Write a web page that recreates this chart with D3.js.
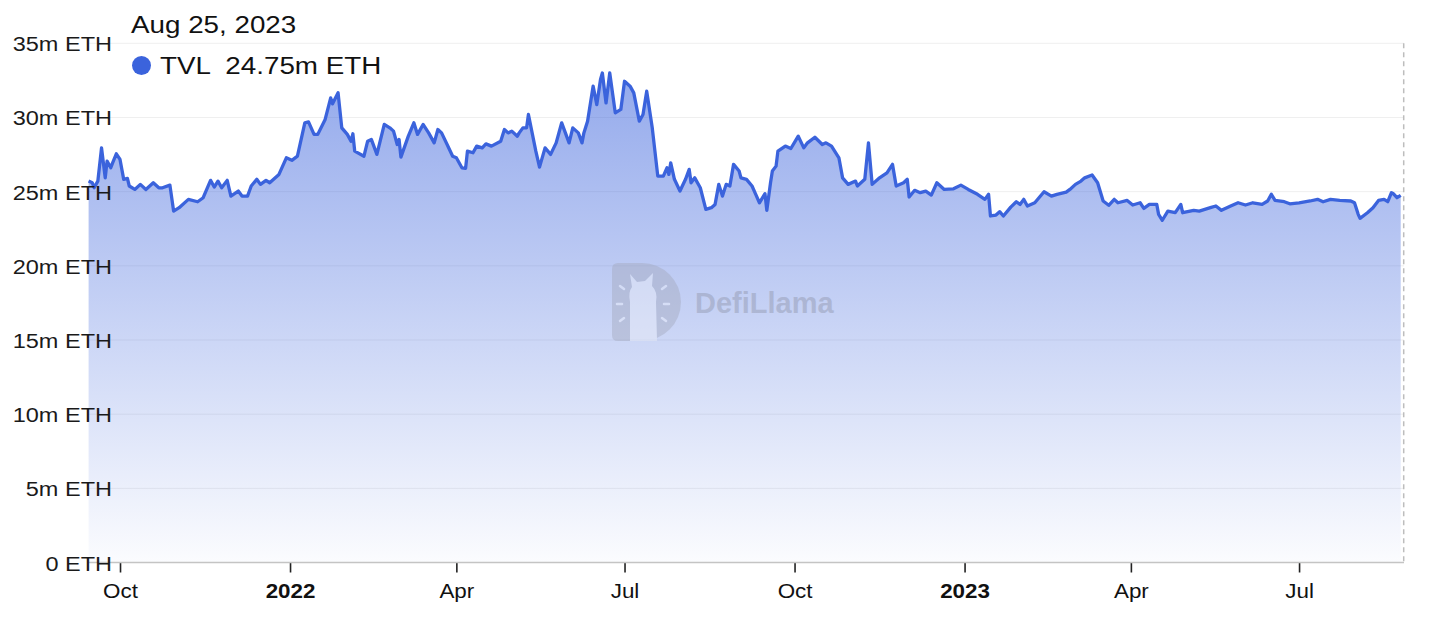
<!DOCTYPE html>
<html>
<head>
<meta charset="utf-8">
<script src="https://cdn.jsdelivr.net/npm/d3@7"></script>
<style>
  html, body { margin: 0; padding: 0; background: #fff; }
  svg { display: block; }
  text { font-family: "Liberation Sans", Arial, Helvetica, sans-serif; }
</style>
</head>
<body>
<svg id="chart" width="1430" height="622"></svg>
<script>
// ---------- DATA ----------
const dates = [
"2021-09-14","2021-09-16","2021-09-17","2021-09-19","2021-09-21","2021-09-23","2021-09-24","2021-09-26","2021-09-27","2021-09-29",
"2021-10-01","2021-10-03","2021-10-05","2021-10-06","2021-10-09","2021-10-12","2021-10-15","2021-10-19","2021-10-22","2021-10-24","2021-10-28","2021-10-30",
"2021-11-02","2021-11-07","2021-11-12","2021-11-15","2021-11-19","2021-11-21","2021-11-23","2021-11-25","2021-11-28","2021-11-30",
"2021-12-04","2021-12-06","2021-12-09","2021-12-11","2021-12-14","2021-12-16","2021-12-19","2021-12-21","2021-12-26","2021-12-30",
"2022-01-02","2022-01-05","2022-01-09","2022-01-11","2022-01-14","2022-01-16","2022-01-20","2022-01-23","2022-01-24","2022-01-27","2022-01-29",
"2022-02-01","2022-02-03","2022-02-04","2022-02-05","2022-02-10","2022-02-12","2022-02-14","2022-02-17","2022-02-21","2022-02-24","2022-02-26","2022-02-28",
"2022-03-01","2022-03-02","2022-03-06","2022-03-09","2022-03-11","2022-03-14","2022-03-17","2022-03-20","2022-03-22","2022-03-24","2022-03-27","2022-03-30",
"2022-04-01","2022-04-04","2022-04-06","2022-04-07","2022-04-10","2022-04-12","2022-04-15","2022-04-17","2022-04-20","2022-04-25","2022-04-27","2022-04-29",
"2022-05-01","2022-05-04","2022-05-05","2022-05-07","2022-05-09","2022-05-10","2022-05-14","2022-05-16","2022-05-19","2022-05-22","2022-05-25","2022-05-28",
"2022-06-01","2022-06-03","2022-06-06","2022-06-08","2022-06-09","2022-06-11","2022-06-14","2022-06-16","2022-06-18","2022-06-19","2022-06-21","2022-06-23","2022-06-26","2022-06-29",
"2022-07-01","2022-07-04","2022-07-06","2022-07-09","2022-07-11","2022-07-13","2022-07-16","2022-07-19","2022-07-22","2022-07-24","2022-07-25","2022-07-26","2022-07-28","2022-07-31",
"2022-08-03","2022-08-05","2022-08-06","2022-08-08","2022-08-11","2022-08-14","2022-08-17","2022-08-19","2022-08-21","2022-08-23","2022-08-25","2022-08-27","2022-08-29",
"2022-09-01","2022-09-02","2022-09-05","2022-09-08","2022-09-10","2022-09-12","2022-09-15","2022-09-16","2022-09-18","2022-09-19","2022-09-21","2022-09-22","2022-09-26","2022-09-29",
"2022-10-03","2022-10-06","2022-10-08","2022-10-12","2022-10-16","2022-10-18","2022-10-21","2022-10-25","2022-10-27","2022-10-30",
"2022-11-03","2022-11-04","2022-11-08","2022-11-10","2022-11-12","2022-11-16","2022-11-20","2022-11-23","2022-11-25","2022-11-29",
"2022-12-01","2022-12-02","2022-12-05","2022-12-08","2022-12-11","2022-12-14","2022-12-17","2022-12-21","2022-12-26","2022-12-30",
"2023-01-03","2023-01-08","2023-01-12","2023-01-14","2023-01-15","2023-01-18","2023-01-20","2023-01-22","2023-01-26","2023-01-29","2023-01-31",
"2023-02-02","2023-02-04","2023-02-08","2023-02-13","2023-02-17","2023-02-20","2023-02-25","2023-02-27",
"2023-03-02","2023-03-05","2023-03-07","2023-03-11","2023-03-14","2023-03-17","2023-03-20","2023-03-23","2023-03-25","2023-03-30",
"2023-04-02","2023-04-06","2023-04-08","2023-04-11","2023-04-15","2023-04-16","2023-04-18","2023-04-21","2023-04-25","2023-04-28","2023-04-29",
"2023-05-05","2023-05-08","2023-05-14","2023-05-17","2023-05-20","2023-05-25","2023-05-29",
"2023-06-02","2023-06-06","2023-06-11","2023-06-14","2023-06-16","2023-06-18","2023-06-23","2023-06-26",
"2023-07-01","2023-07-07","2023-07-11","2023-07-14","2023-07-18","2023-07-23","2023-07-29","2023-07-31",
"2023-08-02","2023-08-03","2023-08-07","2023-08-10","2023-08-13","2023-08-16","2023-08-18","2023-08-20","2023-08-21","2023-08-23","2023-08-25"
];

// TVL in millions of ETH
const tvl = [
25.71,25.60,25.26,25.71,27.95,25.93,27.06,26.61,26.94,27.55,
27.17,25.83,25.89,25.38,25.15,25.49,25.15,25.60,25.26,25.26,25.44,23.69,
23.92,24.48,24.32,24.59,25.76,25.31,25.71,25.26,25.76,24.70,
25.04,24.70,24.70,25.38,25.83,25.49,25.76,25.60,26.16,27.28,
27.11,27.39,29.64,29.70,28.86,28.86,29.87,31.32,30.92,31.66,29.30,
28.86,28.40,28.90,27.73,27.39,28.40,28.52,27.51,29.53,29.30,29.08,28.18,
28.52,27.33,28.74,29.64,28.86,29.53,28.96,28.29,29.19,28.96,28.18,27.39,
27.28,26.61,26.57,27.73,27.62,28.07,27.95,28.22,28.07,28.40,29.19,28.96,
29.08,28.74,28.96,29.30,29.30,30.20,27.73,26.65,27.95,27.51,28.29,29.64,
28.29,29.30,28.96,28.29,28.96,29.75,32.11,30.87,32.56,33.00,30.98,33.00,30.31,30.54,
32.44,32.11,31.66,29.75,30.20,31.77,29.30,26.05,26.05,26.61,26.16,26.94,25.83,25.04,
25.83,26.50,25.60,25.93,25.26,23.81,23.92,24.14,25.49,24.70,25.49,25.38,26.84,
26.39,25.93,25.83,25.38,24.82,24.25,24.86,23.74,25.60,26.39,26.72,27.73,28.07,27.91,
28.74,27.95,28.29,28.67,28.18,28.29,28.07,27.28,25.93,25.49,
25.71,25.38,25.83,28.29,25.49,25.93,26.27,26.84,25.38,25.60,
25.83,24.64,25.09,24.93,25.04,24.77,25.60,25.15,25.19,25.44,
25.15,24.82,24.48,24.82,23.36,23.42,23.65,23.36,23.96,24.32,24.14,
24.48,24.03,24.25,24.99,24.70,24.82,24.97,25.15,
25.49,25.71,25.93,26.12,25.60,24.37,24.08,24.48,24.25,24.41,
24.10,24.25,23.87,24.14,24.14,23.47,23.07,23.69,23.58,24.14,23.58,
23.74,23.69,23.92,24.03,23.74,24.03,24.25,
24.10,24.25,24.14,24.37,24.82,24.41,24.32,24.18,
24.25,24.37,24.48,24.32,24.48,24.41,24.37,24.25,
23.47,23.20,23.58,23.92,24.41,24.48,24.32,24.93,24.86,24.59,24.75
];

const yTicks = [0, 5, 10, 15, 20, 25, 30, 35];
const yTickLabels = ["0 ETH", "5m ETH", "10m ETH", "15m ETH", "20m ETH", "25m ETH", "30m ETH", "35m ETH"];
const xTickDates = ["2021-10-01", "2022-01-01", "2022-04-01", "2022-07-01", "2022-10-01", "2023-01-01", "2023-04-01", "2023-07-01"];
const xTickLabels = ["Oct", "2022", "Apr", "Jul", "Oct", "2023", "Apr", "Jul"];
const xTickBold = [false, true, false, false, false, true, false, false];

const tooltipDate = "Aug 25, 2023";
const tooltipSeries = "TVL";
const tooltipValue = "24.75m ETH";

// ---------- SETUP ----------
const parse = d3.utcParse("%Y-%m-%d");
const data = dates.map((d, i) => ({ date: parse(d), value: tvl[i] }));

const svg = d3.select("#chart");
const plotLeft = 88.6, plotRight = 1400.7, plotTop = 43.3, plotBottom = 562.5;
const SX = 1.12; // horizontal text stretch seen in reference

const x = d3.scaleUtc()
  .domain(d3.extent(data, d => d.date))
  .range([plotLeft, plotRight]);
const y = d3.scaleLinear()
  .domain([0, 35])
  .range([plotBottom, plotTop]);

const lineColor = "#3b63dc";

// gradient
const defs = svg.append("defs");
const grad = defs.append("linearGradient")
  .attr("id", "areaGrad")
  .attr("gradientUnits", "userSpaceOnUse")
  .attr("x1", 0).attr("x2", 0)
  .attr("y1", y(35)).attr("y2", y(0));
grad.append("stop").attr("offset", "0%").attr("stop-color", lineColor).attr("stop-opacity", 0.58);
grad.append("stop").attr("offset", "100%").attr("stop-color", lineColor).attr("stop-opacity", 0.02);

// grid lines
svg.append("g")
  .selectAll("line")
  .data(yTicks.filter(t => t > 0))
  .join("line")
  .attr("x1", plotLeft).attr("x2", 1404)
  .attr("y1", d => y(d)).attr("y2", d => y(d))
  .attr("stroke", "#efefef")
  .attr("stroke-width", 1);

// area
const area = d3.area()
  .x(d => x(d.date))
  .y0(y(0))
  .y1(d => y(d.value));
svg.append("path")
  .datum(data)
  .attr("d", area)
  .attr("fill", "url(#areaGrad)");

// watermark
const wm = svg.append("g").attr("opacity", 0.42);
wm.append("path")
  .attr("d", "M618,263 L642,263 A39,39 0 0 1 642,341 L618,341 Q612,341 612,335 L612,269 Q612,263 618,263 Z")
  .attr("fill", "#a2a7bb");
wm.append("path")
  .attr("d", "M630,341 L630,302 Q628,292 632,287 L630,274 L637,282 L645,281 L653,273 L652,286 Q658,292 656,302 L657,341 Z")
  .attr("fill", "#eef0f8");
[[620,286,624,289],[617,304,622,304],[620,321,624,318],[666,286,662,289],[669,304,664,304],[666,321,662,318]].forEach(s => {
  wm.append("line").attr("x1", s[0]).attr("y1", s[1]).attr("x2", s[2]).attr("y2", s[3])
    .attr("stroke", "#eef0f8").attr("stroke-width", 2.5).attr("stroke-linecap", "round");
});
wm.append("text")
  .attr("x", 695).attr("y", 313)
  .attr("font-family", "Inter, 'Noto Sans', sans-serif")
  .attr("font-weight", 700)
  .attr("font-size", 29)
  .attr("fill", "#8d92a8")
  .text("DefiLlama");

// line
const line = d3.line()
  .x(d => x(d.date))
  .y(d => y(d.value));
svg.append("path")
  .datum(data)
  .attr("d", line)
  .attr("fill", "none")
  .attr("stroke", lineColor)
  .attr("stroke-width", 3.3)
  .attr("stroke-linejoin", "round");

// x axis
const xAxis = d3.axisBottom(x)
  .tickValues(xTickDates.map(parse))
  .tickSize(10)
  .tickFormat((d, i) => xTickLabels[i]);
const gx = svg.append("g")
  .attr("transform", `translate(0,${plotBottom})`)
  .call(xAxis);
gx.select(".domain").remove();
gx.selectAll(".tick line").attr("stroke", "#222").attr("stroke-width", 1.6);
gx.selectAll(".tick text")
  .attr("x", null).attr("y", null).attr("dy", null)
  .attr("transform", `translate(0,35.2) scale(${SX},1)`)
  .attr("font-size", 20)
  .attr("fill", "#111")
  .attr("font-weight", (d, i) => xTickBold[i] ? 700 : 400)
  .attr("font-family", "'Liberation Sans', Arial, sans-serif");
// axis baseline
svg.append("line")
  .attr("x1", plotLeft).attr("x2", 1404)
  .attr("y1", plotBottom).attr("y2", plotBottom)
  .attr("stroke", "#c4c4c4").attr("stroke-width", 1.5);

// y axis labels
const yAxis = d3.axisLeft(y)
  .tickValues(yTicks)
  .tickSize(0)
  .tickFormat((d, i) => yTickLabels[i]);
const gy = svg.append("g")
  .attr("transform", `translate(112,0)`)
  .call(yAxis);
gy.select(".domain").remove();
gy.selectAll(".tick text")
  .attr("x", null).attr("dy", null)
  .attr("transform", `translate(0,7.5) scale(${SX},1)`)
  .attr("text-anchor", "end")
  .attr("font-size", 21)
  .attr("fill", "#1a1a1a")
  .attr("font-family", "'Liberation Sans', Arial, sans-serif");

// hover pointer (dashed)
const last = data[data.length - 1];
svg.append("line")
  .attr("x1", x(last.date) + 3).attr("x2", x(last.date) + 3)
  .attr("y1", plotTop).attr("y2", plotBottom)
  .attr("stroke", "#bdbdbd")
  .attr("stroke-width", 1.5)
  .attr("stroke-dasharray", "5,4");

// tooltip
svg.append("text")
  .attr("transform", `translate(131,33) scale(${SX},1)`)
  .attr("font-size", 24.8)
  .attr("fill", "#111")
  .text(tooltipDate);
svg.append("circle")
  .attr("cx", 141.5).attr("cy", 65.5).attr("r", 9.5)
  .attr("fill", lineColor);
svg.append("text")
  .attr("transform", `translate(160,74) scale(${SX},1)`)
  .attr("font-size", 24.8)
  .attr("fill", "#111")
  .attr("xml:space", "preserve")
  .style("white-space", "pre")
  .text(tooltipSeries + "  " + tooltipValue);
</script>
</body>
</html>
